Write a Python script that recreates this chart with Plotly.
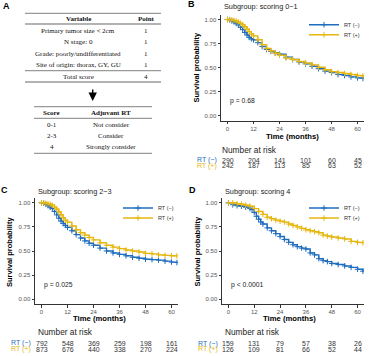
import plotly.graph_objects as go

W, H = 372, 356
BLUE = "#1F6DBE"
GOLD = "#E6B710"
SANS = "Liberation Sans"
NARROW = "Liberation Sans Narrow, Liberation Sans"
SERIF = "Liberation Serif"

# ---------------- data ----------------
time_ticks = [0, 12, 24, 36, 48, 60]
surv_ticks = [0, 0.25, 0.5, 0.75, 1.0]
surv_tick_labels = ["0.00", "0.25", "0.50", "0.75", "1.00"]

# Panel B (scoring 0-1)
b_time = [0, 1, 2, 3, 4, 5, 6, 7, 8, 9, 10, 11, 12, 14, 16, 18, 20, 22, 24, 27, 30, 33, 36, 39, 42, 45, 48, 51, 54, 57, 60, 62.5]
b_rt_neg = [1.0, 0.995, 0.985, 0.975, 0.96, 0.945, 0.92, 0.895, 0.865, 0.84, 0.815, 0.80, 0.79, 0.76, 0.72, 0.69, 0.67, 0.655, 0.64, 0.61, 0.585, 0.56, 0.54, 0.515, 0.49, 0.465, 0.45, 0.43, 0.42, 0.405, 0.395, 0.39]
b_rt_pos = [1.0, 1.0, 0.995, 0.99, 0.985, 0.975, 0.96, 0.945, 0.925, 0.90, 0.875, 0.85, 0.83, 0.79, 0.74, 0.70, 0.675, 0.65, 0.63, 0.60, 0.585, 0.565, 0.55, 0.53, 0.505, 0.48, 0.46, 0.45, 0.44, 0.43, 0.42, 0.415]

# Panel C (scoring 2-3)
c_time = [0, 1, 2, 3, 4, 5, 6, 7, 8, 9, 10, 11, 12, 14, 16, 18, 20, 22, 24, 27, 30, 33, 36, 39, 42, 45, 48, 51, 54, 57, 60, 62.5]
c_rt_neg = [1.0, 0.995, 0.985, 0.97, 0.955, 0.94, 0.91, 0.875, 0.84, 0.81, 0.785, 0.765, 0.745, 0.71, 0.67, 0.635, 0.605, 0.58, 0.56, 0.53, 0.50, 0.48, 0.465, 0.45, 0.435, 0.425, 0.415, 0.41, 0.405, 0.395, 0.385, 0.38]
c_rt_pos = [1.0, 1.0, 0.995, 0.99, 0.985, 0.975, 0.955, 0.935, 0.905, 0.875, 0.845, 0.82, 0.80, 0.76, 0.72, 0.69, 0.665, 0.64, 0.615, 0.585, 0.56, 0.54, 0.525, 0.51, 0.50, 0.49, 0.475, 0.47, 0.46, 0.455, 0.45, 0.45]

# Panel D (scoring 4)
d_time_neg = [0, 2, 4, 6, 8, 10, 11, 12, 13, 14, 15, 16, 18, 20, 22, 24, 26, 28, 30, 32, 34, 36, 38, 40, 42, 44, 46, 48, 51, 54, 57, 60, 62.5]
d_rt_neg = [1.0, 0.98, 0.97, 0.965, 0.955, 0.94, 0.93, 0.90, 0.86, 0.83, 0.80, 0.78, 0.74, 0.71, 0.68, 0.65, 0.62, 0.59, 0.565, 0.545, 0.53, 0.52, 0.48, 0.46, 0.42, 0.40, 0.39, 0.37, 0.36, 0.345, 0.33, 0.31, 0.29]
d_time_pos = [0, 2, 4, 6, 8, 10, 12, 14, 16, 18, 20, 22, 24, 26, 28, 30, 32, 34, 36, 38, 40, 42, 44, 46, 48, 51, 54, 57, 60, 62.5]
d_rt_pos = [1.0, 1.0, 0.99, 0.985, 0.975, 0.965, 0.94, 0.91, 0.88, 0.85, 0.835, 0.82, 0.81, 0.80, 0.78, 0.765, 0.75, 0.735, 0.72, 0.71, 0.70, 0.69, 0.665, 0.655, 0.645, 0.635, 0.625, 0.60, 0.59, 0.585]

# Numbers at risk
risk_b_neg = [290, 204, 141, 101, 60, 45]
risk_b_pos = [242, 187, 113, 85, 63, 52]
risk_c_neg = [792, 548, 369, 259, 198, 161]
risk_c_pos = [873, 676, 440, 338, 270, 224]
risk_d_neg = [159, 131, 79, 57, 38, 26]
risk_d_pos = [126, 109, 81, 66, 52, 44]

group_labels = ["RT (\u2212)", "RT (+)"]
titles = ["Subgroup: scoring 0\u22121", "Subgroup: scoring 2\u22123", "Subgroup: scoring 4"]
p_values = ["p = 0.68", "p = 0.025", "p < 0.0001"]

# Table A
score_vars = ["Primary tumor size < 2cm", "N stage: 0", "Grade: poorly/undifferentiated", "Site of origin: thorax, GY, GU"]
score_points = [1, 1, 1, 1]
total_label, total_points = "Total score", 4
rt_scores = ["0-1", "2-3", "4"]
rt_advice = ["Not consider", "Consider", "Strongly consider"]


def px(x):
    return x / W


def py(y):
    return 1 - y / H


fig = go.Figure()
annotations = []
shapes = []

# ---------------- panels ----------------
# (suffix, x0, x1, y_top, y_bottom) in pixels
panels = [
    ("", 221, 364, 14.7, 120.8),
    ("2", 35, 178, 198, 304),
    ("3", 222, 364, 198, 304),
]
curves = [
    (b_time, b_rt_neg, b_time, b_rt_pos),
    (c_time, c_rt_neg, c_time, c_rt_pos),
    (d_time_neg, d_rt_neg, d_time_pos, d_rt_pos),
]
risks = [(risk_b_neg, risk_b_pos), (risk_c_neg, risk_c_pos), (risk_d_neg, risk_d_pos)]

# text positions per panel (pixels)
letter_pos = [("B", 191, 4.5), ("C", 4.5, 190), ("D", 192, 190)]
title_pos = [(222, 7), (36, 191), (223, 191)]
pval_pos = [(227.5, 101), (41.5, 285.3), (229, 285.3)]
xtitle_pos = [(292.7, 136), (99, 318), (289, 318.5)]
ytitle_pos = [(196, 67.5), (10, 252), (197.5, 252)]
nar_pos = [(220, 150.5), (36, 332.3), (222.5, 332.3)]
risk_rows = [(160.3, 165.5), (343.3, 349), (343.5, 349)]
legend_y = [(24.7, 34.7), (208, 218), (208, 218)]

layout_axes = {}
legend_count = 0
legend_defs = {}
for i, (suf, x0, x1, yt, yb) in enumerate(panels):
    xa = "x" + suf
    ya = "y" + suf
    layout_axes["xaxis" + suf] = dict(
        domain=[px(x0), px(x1)], range=[-3, 63], anchor=ya,
        tickvals=time_ticks, ticks="outside", ticklen=2.5, tickwidth=1, tickcolor="#333",
        showline=True, linecolor="#333", linewidth=1, showgrid=False, zeroline=False,
        tickfont=dict(family=SANS, size=6, color="#555"), ticklabelstandoff=-1,
    )
    layout_axes["yaxis" + suf] = dict(
        domain=[py(yb), py(yt)], range=[-0.05, 1.05], anchor=xa,
        tickvals=surv_ticks, ticktext=surv_tick_labels,
        ticks="outside", ticklen=2.5, tickwidth=1, tickcolor="#333",
        showline=True, linecolor="#333", linewidth=1, showgrid=False, zeroline=False,
        tickfont=dict(family=SANS, size=6, color="#555"),
    )
    tn, sn, tp, sp = curves[i]
    for (t, s, col, name, k) in [(tn, sn, BLUE, group_labels[0], 0), (tp, sp, GOLD, group_labels[1], 1)]:
        legend_count += 1
        lname = "legend" if legend_count == 1 else "legend%d" % legend_count
        fig.add_trace(go.Scatter(
            x=t, y=s, mode="lines+markers", name=name, xaxis=xa, yaxis=ya,
            line=dict(color=col, width=1.4, shape="hv"),
            marker=dict(symbol="cross-thin-open", size=4, line=dict(color=col, width=1), color=col),
            legend=lname, showlegend=True, hoverinfo="skip",
        ))
        legend_defs[lname] = dict(
            x=px(x1 - 60), y=py(legend_y[i][k]), xanchor="left", yanchor="middle",
            bgcolor="rgba(0,0,0,0)", borderwidth=0,
            font=dict(family=SANS, size=5.5, color="#333"),
            itemwidth=30, tracegroupgap=0,
        )
    # texts
    L, lx, ly = letter_pos[i]
    annotations.append(dict(text="<b>%s</b>" % L, x=px(lx), y=py(ly), xref="paper", yref="paper",
                            showarrow=False, xanchor="center", yanchor="middle",
                            font=dict(family=SANS, size=9, color="#000")))
    annotations.append(dict(text=titles[i], x=px(title_pos[i][0]), y=py(title_pos[i][1]), xref="paper", yref="paper",
                            showarrow=False, xanchor="left", yanchor="middle",
                            font=dict(family=SANS, size=7.3, color="#222")))
    annotations.append(dict(text=p_values[i], x=px(pval_pos[i][0]), y=py(pval_pos[i][1]), xref="paper", yref="paper",
                            showarrow=False, xanchor="left", yanchor="middle",
                            font=dict(family=SANS, size=6.8, color="#222")))
    annotations.append(dict(text="<b>Time (months)</b>", x=px(xtitle_pos[i][0]), y=py(xtitle_pos[i][1]),
                            xref="paper", yref="paper", showarrow=False, xanchor="center", yanchor="middle",
                            font=dict(family=SANS, size=7.7, color="#000")))
    annotations.append(dict(text="<b>Survival probability</b>", x=px(ytitle_pos[i][0]), y=py(ytitle_pos[i][1]),
                            xref="paper", yref="paper", showarrow=False, xanchor="center", yanchor="middle",
                            textangle=-90, font=dict(family=SANS, size=7.5, color="#000")))
    annotations.append(dict(text="Number at risk", x=px(nar_pos[i][0]), y=py(nar_pos[i][1]),
                            xref="paper", yref="paper", showarrow=False, xanchor="left", yanchor="middle",
                            font=dict(family=SANS, size=8.3, color="#222")))
    for k, (vals, col) in enumerate([(risks[i][0], BLUE), (risks[i][1], GOLD)]):
        ry = risk_rows[i][k]
        annotations.append(dict(text=group_labels[k], x=px(x0 - 2), y=py(ry), xref="paper", yref="paper",
                                showarrow=False, xanchor="right", yanchor="middle",
                                font=dict(family=NARROW, size=7, color=col)))
        for t, v in zip(time_ticks, vals):
            annotations.append(dict(text=str(v), x=t, y=py(ry), xref=xa, yref="paper",
                                    showarrow=False, xanchor="center", yanchor="middle",
                                    font=dict(family=NARROW, size=7, color="#333")))

# ---------------- Panel A: table ----------------
RULE = "#9A9A9A"
annotations.append(dict(text="<b>A</b>", x=px(6.5), y=py(6), xref="paper", yref="paper", showarrow=False,
                        xanchor="center", yanchor="middle", font=dict(family=SANS, size=9, color="#000")))


def hrule(x0, x1, y):
    shapes.append(dict(type="line", xref="paper", yref="paper", x0=px(x0), x1=px(x1), y0=py(y), y1=py(y),
                       line=dict(color=RULE, width=1.3)))


def cell(text, x, y, bold=False):
    annotations.append(dict(text=("<b>%s</b>" % text) if bold else text, x=px(x), y=py(y), xref="paper",
                            yref="paper", showarrow=False, xanchor="center", yanchor="middle",
                            font=dict(family=SERIF, size=7, color="#111")))


hrule(25, 161, 13.3)
hrule(25, 161, 24)
hrule(25, 161, 70.7)
hrule(25, 161, 82)
cell("Variable", 78, 19, True)
cell("Point", 146, 19, True)
row_y = [31, 42.3, 53.7, 65.2]
for v, p, y in zip(score_vars, score_points, row_y):
    cell(v, 78, y)
    cell(str(p), 146, y)
cell(total_label, 78, 76.8)
cell(str(total_points), 146, 76.8)

annotations.append(dict(text="", x=px(92.7), y=py(101), xref="paper", yref="paper", showarrow=True,
                        ax=0, ay=-13, axref="pixel", ayref="pixel", arrowhead=2, arrowsize=1.2,
                        arrowwidth=1.4, arrowcolor="#000"))

hrule(34, 152, 106.7)
hrule(34, 152, 118.3)
hrule(34, 152, 153.3)
cell("Score", 51.7, 112.5, True)
cell("Adjuvant RT", 111, 112.5, True)
for s, a, y in zip(rt_scores, rt_advice, [124.7, 136, 147.3]):
    cell(s, 51.7, y)
    cell(a, 111, y)

fig.update_layout(
    width=W, height=H, margin=dict(l=0, r=0, t=0, b=0),
    paper_bgcolor="white", plot_bgcolor="white", hovermode=False,
    annotations=annotations, shapes=shapes,
    **layout_axes, **legend_defs,
)

fig.write_html("out.html", config={"displayModeBar": False, "staticPlot": True},
               post_script="document.body.style.margin='0';document.body.style.overflow='hidden';")
